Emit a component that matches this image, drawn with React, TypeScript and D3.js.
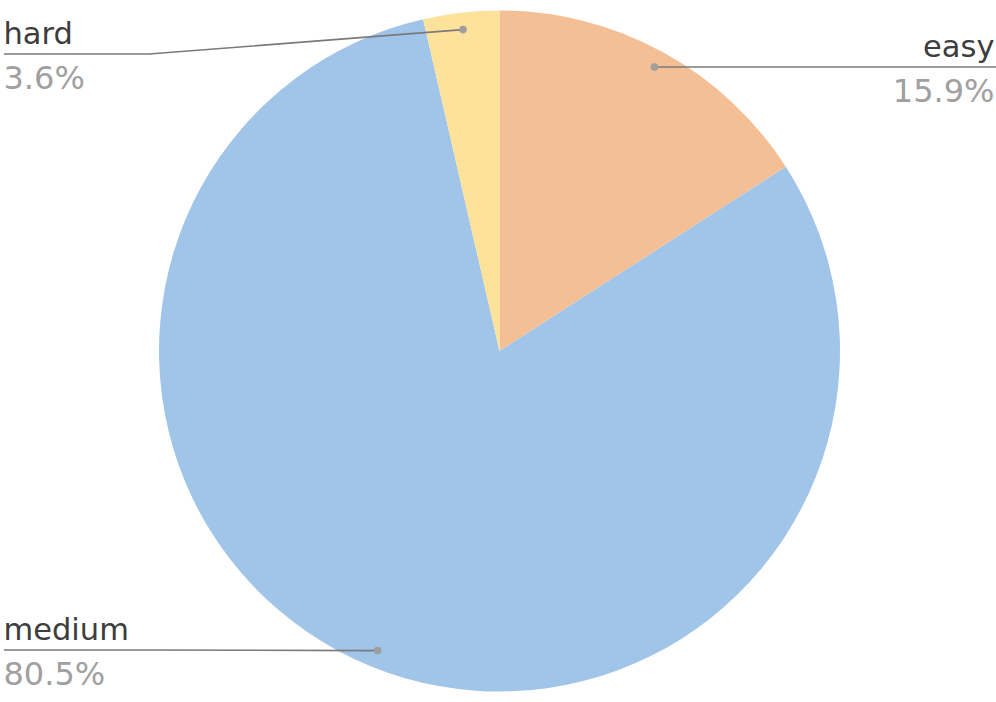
import React from 'react';
import * as d3 from 'd3';

const categories = ['easy', 'medium', 'hard'];
const shares = [15.9, 80.5, 3.6];
const sliceColors = ['#F5BF96', '#A1C5E8', '#FDE29B'];

const width = 996;
const height = 702;

const App = () => {
    const cx = 499.5;
    const cy = 351;
    const radius = 340.5;

    const data = categories.map((name, i) => ({ name, value: shares[i], color: sliceColors[i] }));

    const pie = d3.pie<any>()
        .value(d => d.value)
        .sort(null);

    const arcs = pie(data);

    const arcGen = d3.arc<any>()
        .innerRadius(0)
        .outerRadius(radius);

    // label anchor points sit just inside the rim
    const dotArc = d3.arc<any>()
        .innerRadius(radius * 0.95)
        .outerRadius(radius * 0.95);

    const minLineY = 54;
    const maxLineY = height - 52;

    return (
        <svg
            width={width}
            height={height}
            style={{ position: 'absolute', left: 0, top: 0, fontFamily: 'DejaVu Sans, Verdana, sans-serif' }}
        >
            <g transform={`translate(${cx},${cy})`}>
                {arcs.map(a => (
                    <path key={a.data.name} d={arcGen(a) as string} fill={a.data.color} />
                ))}
            </g>
            {arcs.map(a => {
                const [dx, dy] = dotArc.centroid(a);
                const px = cx + dx;
                const py = cy + dy;
                const right = px >= cx;
                const lineY = Math.max(minLineY, Math.min(maxLineY, py));
                const elbowX = right ? cx + radius + 10 : cx - radius - 10;
                const endX = right ? width : 4;
                const textX = right ? width - 1.5 : 3.5;
                const pts: [number, number][] = right && px > elbowX
                    ? [[px, py], [endX, lineY]]
                    : [[px, py], [elbowX, lineY], [endX, lineY]];
                const linePath = d3.line()(pts) as string;
                return (
                    <g key={a.data.name}>
                        <path d={linePath} fill="none" stroke="#7a7a7a" strokeWidth={1.6} />
                        <circle cx={px} cy={py} r={3.8} fill="#9e9e9e" />
                        <text
                            x={textX}
                            y={lineY - 10}
                            textAnchor={right ? 'end' : 'start'}
                            fill="#3d3d3d"
                            fontSize={30.5}
                        >
                            {a.data.name}
                        </text>
                        <text
                            x={textX}
                            y={lineY + 35}
                            textAnchor={right ? 'end' : 'start'}
                            fill="#a0a0a0"
                            fontSize={32}
                        >
                            {a.data.value.toFixed(1)}%
                        </text>
                    </g>
                );
            })}
        </svg>
    );
};

export default App;
